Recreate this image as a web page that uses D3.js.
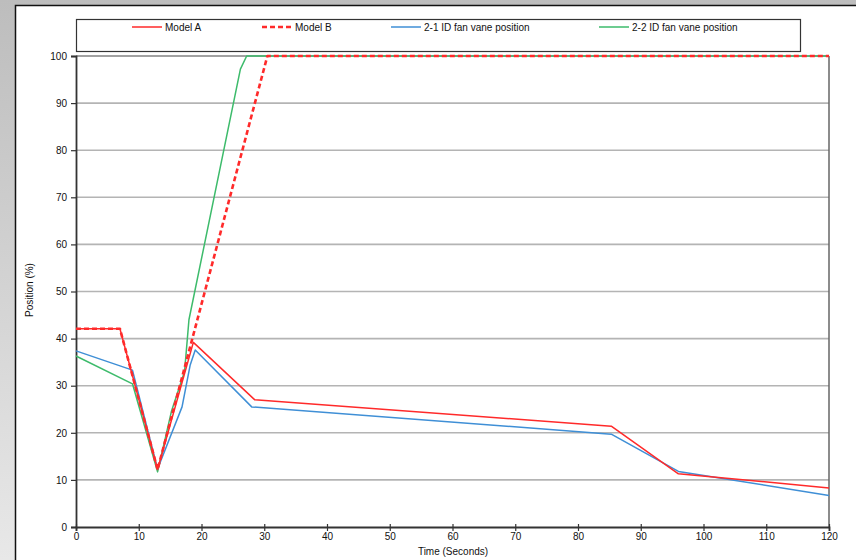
<!DOCTYPE html>
<html><head><meta charset="utf-8">
<script src="https://cdn.jsdelivr.net/npm/d3@7"></script>
<style>body{margin:0;}svg{display:block;font-family:"Liberation Sans",Arial,sans-serif;}</style>
</head><body>
<script>
const seriesNames = ["Model A", "Model B", "2-1 ID fan vane position", "2-2 ID fan vane position"];
const modelA = [[0,42.1],[7,42.1],[13,12.2],[18.7,39.2],[28.5,27],[85.3,21.4],[96,11.3],[120,8.3]];
const modelB = [[0,42.1],[7,42.1],[13,12.2],[30.5,100],[120,100]];
const fan21 = [[0,37.4],[9,33.3],[13,12.3],[16.9,25.5],[18.2,34.4],[19,37.6],[28,25.5],[85.3,19.7],[96,11.8],[120,6.7]];
const fan22 = [[0,36.3],[9,30.4],[13,11.7],[15.2,24.5],[17.3,33],[18,44],[26.2,97.2],[27.2,100],[120,100]];
const xTicks = [0,10,20,30,40,50,60,70,80,90,100,110,120];
const yTicks = [0,10,20,30,40,50,60,70,80,90,100];

const W = 856, H = 560;
const svg = d3.select("body").append("svg").attr("width", W).attr("height", H);
const defs = svg.append("defs");
const g1 = defs.append("linearGradient").attr("id","bg").attr("x1",0).attr("y1",0).attr("x2",0).attr("y2",1);
g1.append("stop").attr("offset","0%").attr("stop-color","#bdbdbd");
g1.append("stop").attr("offset","100%").attr("stop-color","#e8e8e8");
svg.append("rect").attr("width",W).attr("height",H).attr("fill","url(#bg)");
svg.append("rect").attr("x",15.5).attr("y",5.5).attr("width",W).attr("height",H).attr("fill","#fff").attr("stroke","#111").attr("stroke-width",1.5);

const x = d3.scaleLinear().domain([0,120]).range([76,829]);
const y = d3.scaleLinear().domain([0,100]).range([527,56]);

// gridlines
svg.append("g").selectAll("line").data(yTicks.filter(d=>d>0 && d<100)).join("line")
  .attr("x1",x(0)).attr("x2",x(120)).attr("y1",d=>y(d)).attr("y2",d=>y(d))
  .attr("stroke","#b4b4b4").attr("stroke-width",1.6);

// plot border
svg.append("line").attr("x1",x(0)).attr("x2",x(120)).attr("y1",y(100)).attr("y2",y(100)).attr("stroke","#444").attr("stroke-width",1.2);
svg.append("line").attr("x1",x(120)).attr("x2",x(120)).attr("y1",y(100)).attr("y2",y(0)).attr("stroke","#666").attr("stroke-width",1.5);

// axes
const yAxis = svg.append("g").attr("transform",`translate(${x(0)},0)`)
  .call(d3.axisLeft(y).tickValues(yTicks).tickSize(5).tickPadding(4));
const xAxis = svg.append("g").attr("transform",`translate(0,${y(0)})`)
  .call(d3.axisBottom(x).tickValues(xTicks).tickSize(4).tickPadding(2));
[yAxis, xAxis].forEach(a=>{
  a.select(".domain").attr("stroke","#333").attr("stroke-width",1.8);
  a.selectAll(".tick line").attr("stroke","#333").attr("stroke-width",1.2);
  a.selectAll("text").attr("fill","#111").style("font-size","10px").style("font-family","Liberation Sans, Arial, sans-serif");
});
xAxis.selectAll(".tick line").attr("y1",-3);

svg.append("text").attr("transform",`translate(33,290) rotate(-90)`).attr("text-anchor","middle")
  .style("font-size","10px").attr("fill","#111").text("Position (%)");
svg.append("text").attr("x",453).attr("y",555).attr("text-anchor","middle")
  .style("font-size","10px").attr("fill","#111").text("Time (Seconds)");

// lines
const line = d3.line().x(d=>x(d[0])).y(d=>y(d[1]));
const series = [
  {name:seriesNames[3], data:fan22, color:"#3dbb6b", w:1.5, dash:null},
  {name:seriesNames[2], data:fan21, color:"#3f8fd6", w:1.5, dash:null},
  {name:seriesNames[0], data:modelA, color:"#ff2a2a", w:1.5, dash:null},
  {name:seriesNames[1], data:modelB, color:"#ff2a2a", w:2.6, dash:"5,3"}
];
series.forEach(s=>{
  svg.append("path").datum(s.data).attr("d",line).attr("fill","none")
    .attr("stroke",s.color).attr("stroke-width",s.w).attr("stroke-dasharray",s.dash)
    .attr("stroke-linejoin","round");
});

// legend
svg.append("rect").attr("x",76.5).attr("y",19.5).attr("width",724).attr("height",32)
  .attr("fill","#fff").attr("stroke","#333").attr("stroke-width",1.2);
const legendItems = [
  {s:series[2], x0:132},
  {s:series[3], x0:262},
  {s:series[1], x0:391},
  {s:series[0], x0:599}
];
legendItems.forEach(it=>{
  svg.append("line").attr("x1",it.x0).attr("x2",it.x0+30).attr("y1",27).attr("y2",27)
    .attr("stroke",it.s.color).attr("stroke-width",it.s.dash?2.4:1.5).attr("stroke-dasharray",it.s.dash);
  svg.append("text").attr("x",it.x0+33).attr("y",30.5).style("font-size","10px").attr("fill","#111").text(it.s.name);
});
</script>
</body></html>
